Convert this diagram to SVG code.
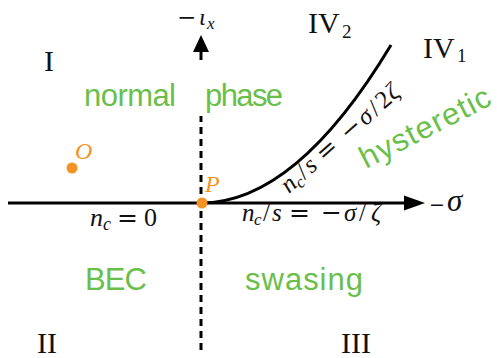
<svg xmlns="http://www.w3.org/2000/svg" width="497" height="358" viewBox="0 0 497 358">
  <style>
    .rom { font-family: "Liberation Serif", "DejaVu Serif", serif; fill: #111; }
    .it { font-style: italic; }
    .op { font-family: "DejaVu Serif", "Liberation Serif", serif; font-style: normal; }
    .reg { font-family: "Liberation Serif", "DejaVu Serif", serif; font-size: 30px; fill: #111; }
    .green { font-family: "Liberation Sans", Arial, sans-serif; font-size: 31px; fill: #6abf4b; }
    .orange { fill: #f39325; }
    .axis { stroke: #000; stroke-width: 3; fill: none; }
  </style>
  <rect width="497" height="358" fill="#fff"/>

  <g id="connectors">
    <g id="sigma-axis">
      <line class="axis" x1="8" y1="203" x2="408" y2="203"/>
      <polygon points="404,195.5 425,203 404,210.5" fill="#000"/>
    </g>
    <g id="iota-axis">
      <line class="axis" x1="201" y1="350" x2="201" y2="116" stroke-dasharray="7 5"/>
      <line class="axis" x1="201" y1="60" x2="201" y2="52"/>
      <polygon points="193,52 201,35 209,52" fill="#000"/>
    </g>
    <path id="boundary-curve" class="axis" d="M201,203 Q296,203 391,45"/>
  </g>

  <g id="axis-labels">
    <text class="rom" font-size="24" y="25"><tspan class="op" x="177" font-size="23">−</tspan><tspan class="it" x="199">ι</tspan><tspan class="it" x="207" y="29" font-size="17">x</tspan></text>
    <text class="rom" font-size="31" y="211"><tspan class="op" x="429" font-size="19">−</tspan><tspan class="it" x="447">σ</tspan></text>
  </g>

  <g id="region-labels">
    <text class="reg" x="44" y="71">I</text>
    <text class="reg" x="37" y="353">II</text>
    <text class="reg" x="341" y="353">III</text>
    <text class="reg" y="33"><tspan x="308">IV</tspan><tspan x="342" y="38" font-size="19">2</tspan></text>
    <text class="reg" y="58"><tspan x="423">IV</tspan><tspan x="457" y="62" font-size="19">1</tspan></text>
  </g>

  <g id="phase-labels">
    <text class="green" y="106"><tspan x="84" textLength="92">normal</tspan><tspan x="205" textLength="78">phase</tspan></text>
    <text class="green" x="85" y="290" textLength="62">BEC</text>
    <text class="green" x="245" y="290" textLength="118">swasing</text>
    <text class="green" transform="translate(366,169) rotate(-27)" textLength="143">hysteretic</text>
  </g>

  <g id="line-labels">
    <text class="rom" font-size="26" y="226"><tspan class="it" x="90">n</tspan><tspan class="it" x="103" y="230" font-size="18">c</tspan><tspan class="op" x="117" y="226" font-size="25">=</tspan><tspan x="144">0</tspan></text>
    <text class="rom" font-size="25" y="221"><tspan class="it" x="242">n</tspan><tspan class="it" x="254" y="225" font-size="17">c</tspan><tspan x="263" y="221">/</tspan><tspan class="it" x="272">s</tspan><tspan class="op" x="289" font-size="25">=</tspan><tspan class="op" x="321" font-size="25">−</tspan><tspan class="it" x="344">σ</tspan><tspan x="359">/</tspan><tspan class="it" x="371">ζ</tspan></text>
    <text class="rom" font-size="25" transform="translate(289,194) rotate(-41.5)"><tspan class="it" x="0" y="0">n</tspan><tspan class="it" x="12" y="4" font-size="17">c</tspan><tspan x="21" y="0">/</tspan><tspan class="it" x="30">s</tspan><tspan class="op" x="47" font-size="25">=</tspan><tspan class="op" x="79" font-size="25">−</tspan><tspan class="it" x="102">σ</tspan><tspan x="117">/</tspan><tspan x="127">2</tspan><tspan class="it" x="140">ζ</tspan></text>
  </g>

  <g id="point-O">
    <circle class="orange" cx="72" cy="168" r="5.5"/>
    <text class="rom it orange" font-size="24" x="75" y="159">O</text>
  </g>
  <g id="point-P">
    <circle class="orange" cx="202" cy="203" r="5.5"/>
    <text class="rom it orange" font-size="24" x="205" y="192">P</text>
  </g>
</svg>
